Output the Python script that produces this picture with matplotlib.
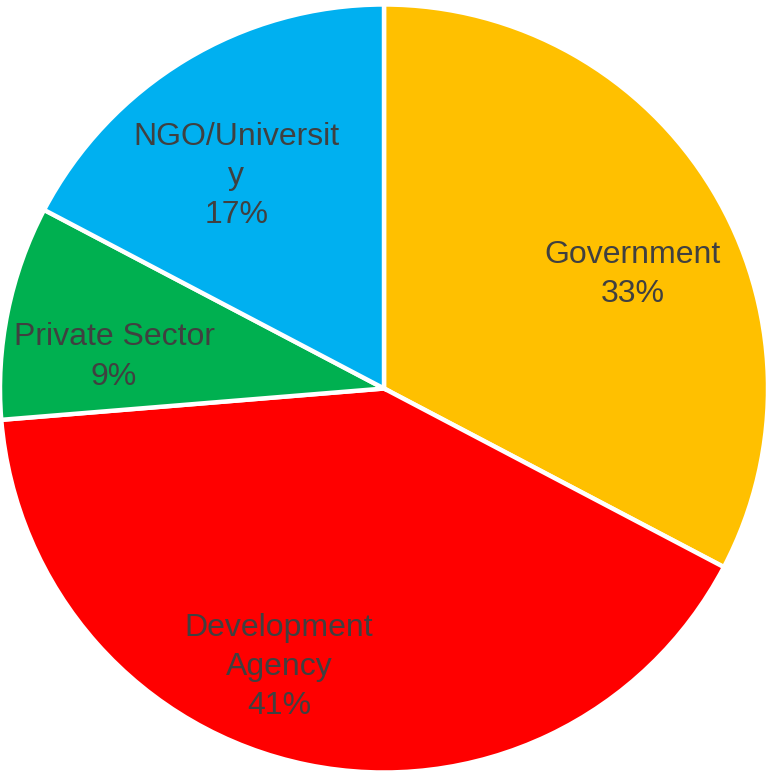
import matplotlib.pyplot as plt

# funding source shares (%)
categories = ['Government', 'Development\nAgency', 'Private Sector', 'NGO/Universit\ny']
shares = [32.7, 41.0, 9.0, 17.3]
colors = ['#FFC000', '#FF0000', '#00B050', '#00B0F0']

# label anchor points (data units, pie radius = 1)
label_xy = [(0.648, 0.296), (-0.273, -0.725), (-0.703, 0.082), (-0.385, 0.553)]

plt.rcParams['font.family'] = ['Liberation Sans Narrow', 'Liberation Sans', 'DejaVu Sans']

fig = plt.figure(figsize=(7.69, 7.79), dpi=100)
ax = fig.add_axes([0, 0, 1, 1])

ax.pie(shares, colors=colors, startangle=90, counterclock=False,
       radius=1.0, wedgeprops=dict(edgecolor='white', linewidth=3.2))

for (x, y), name, val in zip(label_xy, categories, shares):
    ax.text(x, y, f'{name}\n{val:.0f}%', ha='center', va='center',
            fontsize=23, color='#404040', linespacing=1.4)

# keep the circle at a fixed pixel size / position
R = 384
ax.set_aspect('auto')
ax.set_xlim(-384 / R, 385 / R)
ax.set_ylim(-(779 - 388.5) / R, 388.5 / R)
ax.axis('off')

fig.savefig('out.png', dpi=100, facecolor='white')
